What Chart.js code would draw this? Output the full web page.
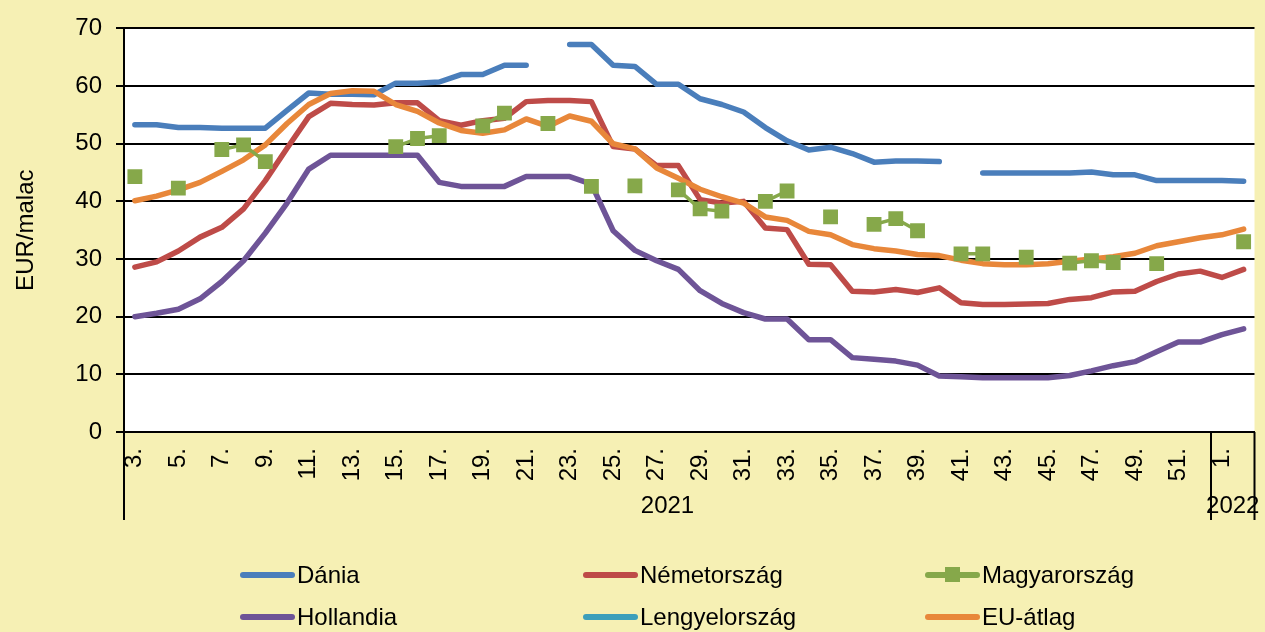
<!DOCTYPE html>
<html>
<head>
<meta charset="utf-8">
<script src="https://cdn.jsdelivr.net/npm/chart.js@4.4.1/dist/chart.umd.min.js"></script>
<style>
body{margin:0;background:#f6f0b4;}
#wrap{position:relative;width:1265px;height:632px;background:#f6f0b4;overflow:hidden;}
#c{position:absolute;left:0;top:0;}
.item{position:absolute;height:30px;font-family:"Liberation Sans",Arial,sans-serif;font-size:24px;line-height:30px;color:#000;white-space:nowrap;}
.item .ln{position:absolute;left:0;top:12px;width:55px;height:6px;border-radius:3px;}
.item .sq{position:absolute;left:20px;top:7px;width:15px;height:15px;}
.item span.t{position:absolute;left:57px;top:0;}
</style>
</head>
<body>
<div id="wrap">
<canvas id="c" width="1265" height="632"></canvas>
<div id="legend"></div>
</div>
<script>
// weeks 3..52 of 2021, then 1..2 of 2022
var weeks = ["3.","4.","5.","6.","7.","8.","9.","10.","11.","12.","13.","14.","15.","16.","17.","18.","19.","20.",
  "21.","22.","23.","24.","25.","26.","27.","28.","29.","30.","31.","32.","33.","34.","35.","36.","37.","38.",
  "39.","40.","41.","42.","43.","44.","45.","46.","47.","48.","49.","50.","51.","52.","1.","2."];
var years = ["2021","2022"];
var yearCount = [50, 2];
var yTicks = [0,10,20,30,40,50,60,70];

var dania = [53.3,53.3,52.8,52.8,52.7,52.7,52.7,55.8,58.8,58.6,58.6,58.5,60.5,60.5,60.7,62.0,62.0,63.6,
  63.6,null,67.2,67.2,63.6,63.4,60.3,60.3,57.8,56.8,55.5,52.8,50.5,48.9,49.4,48.3,46.8,47.0,
  47.0,46.9,null,44.9,44.9,44.9,44.9,44.9,45.1,44.6,44.6,43.6,43.6,43.6,43.6,43.5];
var nemet = [28.6,29.5,31.4,33.8,35.5,38.7,43.6,49.2,54.7,57.0,56.8,56.7,57.1,57.1,54.0,53.2,54.0,54.4,
  57.3,57.5,57.5,57.3,49.5,49.1,46.2,46.2,40.3,39.7,40.0,35.4,35.1,29.1,29.0,24.4,24.3,24.7,
  24.2,25.0,22.4,22.1,22.1,22.2,22.3,23.0,23.3,24.3,24.4,26.1,27.4,27.9,26.8,28.2];
var magyar = [44.3,null,42.3,null,49.0,49.8,46.9,null,null,null,null,null,49.5,50.9,51.4,null,53.1,55.3,
  null,53.5,null,42.6,null,42.7,null,42.0,38.7,38.3,null,40.0,41.8,null,37.3,null,36.0,37.0,
  34.9,null,30.9,30.9,null,30.3,null,29.3,29.7,29.4,null,29.2,null,null,null,33.0];
var holland = [20.0,20.6,21.3,23.1,26.1,29.7,34.5,39.7,45.6,48.0,48.0,48.0,48.0,48.0,43.3,42.6,42.6,42.6,
  44.3,44.3,44.3,43.0,34.9,31.5,29.7,28.2,24.5,22.3,20.7,19.6,19.6,16.0,16.0,12.9,12.6,12.3,
  11.6,9.7,9.6,9.4,9.4,9.4,9.4,9.8,10.6,11.5,12.2,13.9,15.6,15.6,16.9,17.9];
var lengyel = weeks.map(function(){ return null; });
var eu = [40.1,40.9,42.0,43.3,45.2,47.2,49.8,53.5,56.8,58.7,59.2,59.1,56.8,55.6,53.6,52.3,51.8,52.4,
  54.3,53.0,54.8,53.9,50.0,49.1,45.8,44.0,42.1,40.8,39.7,37.3,36.7,34.8,34.2,32.5,31.8,31.4,
  30.8,30.6,29.8,29.2,29.0,29.0,29.2,29.6,30.0,30.4,31.0,32.3,33.0,33.7,34.2,35.2];

var FONT = "'Liberation Sans', Arial, sans-serif";
var series = [
  {label:"Dánia", data:dania, color:"#4a7ebb", order:4},
  {label:"Németország", data:nemet, color:"#be4b48", order:3},
  {label:"Magyarország", data:magyar, color:"#86a84a", order:0, marker:true},
  {label:"Hollandia", data:holland, color:"#6e5497", order:2},
  {label:"Lengyelország", data:lengyel, color:"#3d9fbb", order:5},
  {label:"EU-átlag", data:eu, color:"#e8873a", order:1}
];

var datasets = series.map(function(s){
  return {
    label: s.label,
    data: s.data,
    borderColor: s.color,
    backgroundColor: s.color,
    borderWidth: s.marker ? 3.5 : 5.5,
    pointStyle: "rect",
    pointRadius: s.marker ? 10.5 : 0,
    pointHoverRadius: s.marker ? 10.5 : 0,
    pointBorderWidth: 0,
    borderCapStyle: "round",
    borderJoinStyle: "round",
    tension: 0,
    spanGaps: false,
    order: s.order
  };
});

// white plotting area on the yellow page
var plotBg = {
  id: "plotBg",
  beforeDraw: function(chart){
    var a = chart.chartArea, ctx = chart.ctx;
    ctx.save();
    ctx.fillStyle = "#fff";
    ctx.fillRect(a.left, a.top, a.right - a.left, a.bottom - a.top);
    ctx.restore();
  }
};

// second level of the category axis (years) with separator lines
var yearAxis = {
  id: "yearAxis",
  afterDraw: function(chart){
    var ctx = chart.ctx, x = chart.scales.x, a = chart.chartArea;
    var bottom = x.bottom;
    var edges = [a.left];
    var idx = 0;
    for (var i = 0; i < yearCount.length; i++){
      idx += yearCount[i];
      if (idx < weeks.length) edges.push((x.getPixelForValue(idx - 1) + x.getPixelForValue(idx)) / 2);
    }
    edges.push(a.right);
    ctx.save();
    ctx.strokeStyle = "#000";
    ctx.lineWidth = 2;
    edges.forEach(function(px){
      ctx.beginPath();
      ctx.moveTo(px, a.bottom);
      ctx.lineTo(px, bottom);
      ctx.stroke();
    });
    ctx.fillStyle = "#000";
    ctx.font = "24px " + FONT;
    ctx.textAlign = "center";
    ctx.textBaseline = "middle";
    for (var j = 0; j < years.length; j++){
      ctx.fillText(years[j], (edges[j] + edges[j + 1]) / 2, bottom - 14);
    }
    ctx.restore();
  }
};

new Chart(document.getElementById("c").getContext("2d"), {
  type: "line",
  data: { labels: weeks, datasets: datasets },
  plugins: [plotBg, yearAxis],
  options: {
    responsive: false,
    animation: false,
    layout: { padding: { left: 0, right: 7, top: 26, bottom: 112 } },
    plugins: { legend: { display: false }, tooltip: { enabled: false } },
    scales: {
      x: {
        offset: true,
        grid: { display: false, offset: true },
        border: { display: true, color: "#000", width: 2 },
        ticks: {
          autoSkip: false,
          maxRotation: 90,
          minRotation: 90,
          padding: 8,
          color: "#000",
          font: { size: 24, family: FONT },
          callback: function(v, i){ return i % 2 === 0 ? weeks[i] : ""; }
        },
        afterFit: function(scale){ scale.height = 88; scale.paddingRight = 0; scale.paddingLeft = 0; }
      },
      y: {
        min: 0,
        max: 70,
        afterBuildTicks: function(scale){
          scale.ticks = yTicks.map(function(v){ return {value: v}; });
        },
        grid: { color: "#000", lineWidth: 2, tickLength: 8, drawTicks: true },
        border: { display: true, color: "#000", width: 2 },
        ticks: { color: "#000", padding: 14, font: { size: 24, family: FONT } },
        title: { display: true, text: "EUR/malac", color: "#000", padding: { top: 12, bottom: 0 }, font: { size: 24, family: FONT } },
        afterFit: function(scale){ scale.width = 124; }
      }
    }
  }
});

// legend laid out in three columns like the original
var cols = [240, 583, 925];
var rows = [560, 602];
var legend = document.getElementById("legend");
series.forEach(function(s, i){
  var d = document.createElement("div");
  d.className = "item";
  d.style.left = cols[i % 3] + "px";
  d.style.top = rows[Math.floor(i / 3)] + "px";
  var ln = document.createElement("div");
  ln.className = "ln";
  ln.style.background = s.color;
  d.appendChild(ln);
  if (s.marker){
    var sq = document.createElement("div");
    sq.className = "sq";
    sq.style.background = s.color;
    d.appendChild(sq);
  }
  var t = document.createElement("span");
  t.className = "t";
  t.textContent = s.label;
  d.appendChild(t);
  legend.appendChild(d);
});
</script>
</body>
</html>
